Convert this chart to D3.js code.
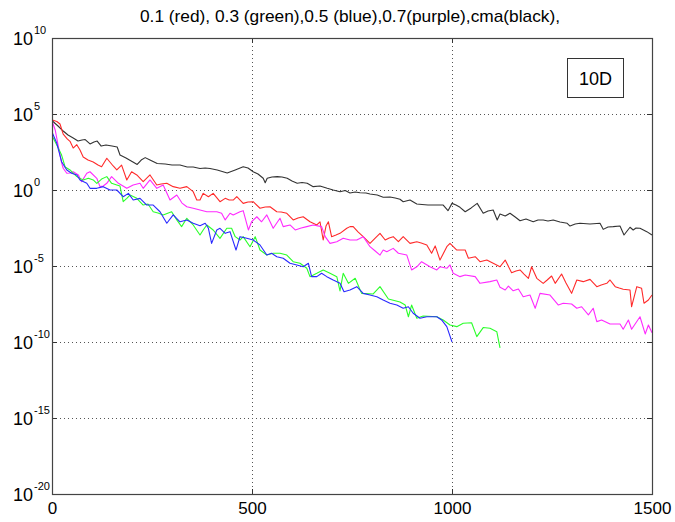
<!DOCTYPE html>
<html><head><meta charset="utf-8">
<script src="https://cdn.jsdelivr.net/npm/d3@7"></script>
<style>
body{margin:0;background:#fff;}
text{font-family:"Liberation Sans",Arial,sans-serif;fill:#000;}
</style></head>
<body><svg id="c" width="675" height="522"></svg>
<script>
// ---- data: [iteration, log10(value)] ----
const titleText = "0.1 (red), 0.3 (green),0.5 (blue),0.7(purple),cma(black),";
const boxLabel = "10D";
const xTicks = [0, 500, 1000, 1500];
const yTickExps = [10, 5, 0, -5, -10, -15, -20];

const black = [[1,4.54],[15,4.21],[28,3.88],[40,3.62],[53,3.42],[65,3.22],[75,3.29],[83,3.32],[95,3.03],[105,3.16],[113,3.22],[123,2.89],[135,2.96],[150,2.89],[163,2.83],[170,2.30],[185,2.11],[198,1.91],[213,1.68],[223,1.97],[233,2.13],[245,1.97],[263,1.74],[283,1.71],[300,1.64],[320,1.64],[338,1.51],[353,1.51],[370,1.41],[383,1.45],[395,1.41],[413,1.32],[438,1.12],[458,1.32],[478,1.53],[490,1.45],[503,1.20],[515,1.05],[528,0.77],[533,0.48],[538,0.77],[550,0.86],[563,0.88],[575,0.86],[588,0.77],[600,0.59],[613,0.44],[625,0.49],[638,0.44],[653,0.22],[670,0.26],[688,0.11],[703,0],[720,-0.11],[733,-0.03],[745,-0.20],[758,-0.13],[770,-0.18],[785,-0.20],[795,-0.26],[813,-0.33],[828,-0.48],[845,-0.46],[858,-0.53],[870,-0.61],[878,-0.77],[895,-0.66],[912,-0.92],[925,-0.95],[940,-0.99],[953,-0.99],[965,-0.99],[978,-0.99],[990,-1.36],[1000,-0.88],[1010,-0.99],[1020,-1.14],[1033,-1.43],[1048,-1.18],[1063,-0.88],[1078,-1.53],[1090,-1.38],[1103,-1.32],[1113,-1.97],[1120,-1.58],[1133,-1.71],[1145,-1.53],[1158,-1.78],[1170,-2.02],[1185,-1.91],[1203,-2.09],[1215,-1.97],[1228,-1.97],[1240,-2.04],[1253,-1.97],[1270,-2.11],[1288,-2.19],[1295,-2.37],[1308,-2.24],[1320,-2.19],[1345,-2.24],[1370,-2.19],[1378,-2.59],[1390,-2.43],[1403,-2.41],[1420,-2.37],[1430,-2.96],[1445,-2.45],[1453,-2.63],[1460,-2.50],[1470,-2.52],[1487,-2.74],[1500,-2.96]];

const red = [[1,4.61],[12,4.51],[20,4.34],[28,3.68],[38,3.36],[45,3.20],[53,2.76],[62,2.98],[70,2.63],[78,2.17],[90,1.97],[103,1.84],[115,1.64],[124,1.53],[137,2.09],[153,1.58],[162,1.32],[174,1.64],[187,0.66],[199,1.20],[212,0.99],[228,0.55],[245,0.99],[262,0.33],[273,0.39],[287,0.44],[303,0.22],[320,0.11],[337,0.22],[353,-0.11],[362,-0.66],[370,-0.66],[378,-0.22],[391,-0.44],[403,-0.22],[420,-0.77],[433,-0.55],[443,-0.66],[453,-0.66],[462,-0.44],[478,-0.88],[490,-0.79],[503,-0.77],[520,-1.20],[533,-1.12],[545,-1.10],[562,-1.43],[573,-1.45],[587,-1.53],[603,-1.97],[615,-1.84],[628,-1.76],[645,-2.09],[662,-2.30],[670,-2.09],[678,-3.29],[685,-2.37],[691,-2.09],[699,-3.07],[710,-2.96],[720,-2.85],[737,-2.52],[745,-2.41],[753,-2.41],[765,-2.76],[778,-3.07],[795,-3.51],[808,-3.16],[820,-2.85],[833,-3.29],[843,-3.16],[853,-3.07],[866,-3.40],[878,-3.07],[895,-3.51],[912,-3.40],[923,-3.49],[937,-3.62],[949,-4.16],[958,-3.68],[970,-4.61],[987,-3.73],[995,-3.51],[1012,-3.95],[1023,-3.95],[1033,-3.95],[1041,-4.49],[1058,-4.39],[1070,-4.72],[1087,-4.61],[1103,-4.82],[1120,-5.05],[1133,-4.61],[1149,-5.44],[1160,-5.33],[1170,-5.26],[1180,-5.53],[1191,-5.81],[1199,-5.05],[1212,-5.81],[1228,-6.14],[1238,-5.92],[1249,-5.66],[1258,-6.14],[1274,-5.53],[1285,-6.12],[1299,-6.80],[1312,-5.92],[1328,-6.03],[1345,-5.88],[1362,-6.36],[1373,-6.25],[1387,-6.14],[1395,-5.92],[1408,-6.36],[1418,-6.45],[1428,-6.53],[1445,-6.58],[1449,-7.68],[1462,-6.36],[1474,-6.47],[1480,-7.45],[1491,-7.24],[1500,-6.91]];

const magenta = [[1,4.47],[8,3.95],[12,3.40],[20,2.30],[24,1.78],[28,1.43],[37,1.10],[45,1.12],[53,1.20],[66,0.99],[74,0.55],[87,1.10],[95,1.20],[112,0.77],[120,0.22],[128,0.26],[137,0.44],[149,0.88],[166,0.44],[187,0.11],[203,0.33],[220,0.44],[228,0.11],[245,0.66],[262,0.11],[278,0.33],[295,-0.66],[312,-0.33],[325,-0.86],[337,-1.10],[353,-1.20],[370,-1.32],[387,-1.43],[412,-1.43],[424,-1.53],[433,-1.97],[445,-1.53],[453,-1.64],[470,-1.43],[478,-1.36],[491,-2.63],[499,-2.09],[512,-1.76],[524,-2.09],[537,-1.64],[553,-2.52],[570,-1.86],[578,-2.41],[595,-2.30],[608,-2.63],[623,-2.50],[637,-2.41],[653,-2.30],[674,-2.41],[683,-3.07],[695,-3.51],[712,-3.40],[728,-3.18],[745,-3.29],[762,-3.29],[778,-3.07],[795,-3.73],[808,-4.01],[820,-4.28],[828,-3.95],[837,-4.06],[853,-3.84],[866,-4.16],[887,-4.28],[899,-5.26],[912,-5.05],[924,-4.72],[945,-5.05],[962,-5.26],[970,-5.05],[987,-5.15],[995,-4.93],[1003,-5.48],[1020,-5.70],[1033,-5.59],[1058,-5.70],[1070,-6.14],[1095,-6.03],[1112,-5.92],[1120,-6.40],[1133,-6.58],[1141,-6.32],[1153,-6.63],[1166,-6.51],[1178,-7.02],[1195,-6.91],[1208,-7.78],[1220,-6.80],[1245,-6.91],[1266,-7.57],[1278,-7.45],[1299,-7.50],[1312,-7.78],[1324,-7.68],[1341,-8.22],[1353,-7.78],[1362,-8.66],[1374,-8.55],[1395,-8.82],[1420,-8.82],[1428,-9.16],[1441,-8.55],[1449,-9.16],[1470,-8.34],[1483,-9.47],[1491,-8.88],[1500,-9.39]];

const green = [[1,3.52],[12,2.96],[24,2.30],[33,1.51],[45,1.32],[62,0.88],[78,0.66],[91,0.77],[103,0.66],[112,0.44],[124,0.72],[137,0.88],[149,0.44],[162,0.33],[170,0.26],[178,-0.77],[187,-0.55],[195,-0.33],[212,-0.55],[228,-0.99],[240,-0.92],[253,-1.43],[265,-1.51],[278,-1.64],[299,-1.43],[312,-1.97],[324,-2.41],[337,-1.86],[353,-2.30],[370,-2.96],[378,-2.63],[387,-2.30],[403,-2.63],[420,-3.18],[437,-2.52],[449,-2.52],[458,-3.07],[470,-3.29],[478,-3.07],[495,-3.73],[508,-3.07],[520,-3.95],[537,-4.28],[553,-4.16],[570,-4.16],[587,-4.28],[603,-4.72],[620,-4.82],[637,-5.15],[645,-5.70],[662,-5.48],[678,-5.26],[695,-5.48],[712,-5.70],[720,-6.64],[728,-5.48],[741,-6.14],[758,-5.81],[774,-6.80],[803,-6.84],[820,-6.36],[841,-7.17],[870,-7.37],[883,-7.57],[891,-8.34],[899,-7.57],[912,-8.44],[928,-8.29],[962,-8.34],[978,-8.55],[995,-8.88],[1012,-8.99],[1028,-8.77],[1049,-8.73],[1062,-9.65],[1078,-9.05],[1095,-9.10],[1112,-9.32],[1120,-10.39]];

const blue = [[1,3.75],[12,3.07],[24,1.86],[37,1.32],[49,1.10],[62,0.99],[70,0.66],[87,0.44],[95,0.11],[112,0.11],[128,0.22],[145,0],[162,0],[178,-0.44],[191,-0.22],[203,-0.66],[220,-0.55],[237,-0.99],[253,-0.99],[270,-1.43],[287,-2.19],[303,-1.64],[320,-2.09],[337,-1.97],[353,-2.19],[370,-2.35],[383,-2.19],[391,-2.52],[399,-3.51],[412,-2.63],[420,-2.52],[433,-2.85],[445,-2.74],[460,-3.95],[470,-3.07],[487,-3.18],[503,-3.29],[520,-3.62],[537,-4.28],[549,-4.16],[562,-4.39],[578,-4.49],[595,-4.82],[612,-4.93],[628,-5.05],[641,-4.82],[649,-5.70],[662,-5.70],[674,-5.48],[687,-5.70],[703,-5.92],[720,-6.14],[730,-6.69],[745,-6.58],[762,-6.36],[778,-6.80],[795,-6.91],[812,-7.02],[828,-7.24],[845,-7.45],[862,-7.57],[878,-7.78],[891,-7.68],[903,-8.11],[920,-8.44],[937,-8.34],[962,-8.34],[974,-8.55],[987,-8.99],[1000,-10.0]];

const series = [
  {name:"cma", data:black, color:"#333333"},
  {name:"0.1", data:red, color:"#ff2a2a"},
  {name:"0.7", data:magenta, color:"#ff2aff"},
  {name:"0.3", data:green, color:"#2aff2a"},
  {name:"0.5", data:blue, color:"#2a2aff"}
];

// ---- layout ----
const L = 52, R = 652, T = 38, B = 494;
const svg = d3.select("#c");
const x = d3.scaleLinear().domain([0,1500]).range([L,R]);
const y = d3.scaleLog().domain([1e-20,1e10]).range([B,T]);

// grid (dotted)
const grid = svg.append("g").attr("stroke","#555").attr("stroke-width",1).attr("stroke-dasharray","1,3");
xTicks.filter(t=>t>0&&t<1500).forEach(t=>{
  grid.append("line").attr("x1",x(t)+0.5).attr("x2",x(t)+0.5).attr("y1",T).attr("y2",B);
});
yTickExps.filter(e=>e<10&&e>-20).forEach(e=>{
  const yy = Math.round(y(Math.pow(10,e)))+0.5;
  grid.append("line").attr("x1",L).attr("x2",R).attr("y1",yy).attr("y2",yy);
});

// lines
const line = d3.line().x(d=>x(d[0])).y(d=>y(Math.pow(10,d[1])));
series.forEach(s=>{
  svg.append("path").datum(s.data).attr("d",line).attr("fill","none")
    .attr("stroke",s.color).attr("stroke-width",1.1).attr("stroke-linejoin","round");
});

// axes (bottom + left with ticks inside), plus frame
const xAxis = d3.axisBottom(x).tickValues(xTicks).tickSize(-5).tickPadding(8).tickFormat(d3.format("d"));
const gx = svg.append("g").attr("transform",`translate(0,${B})`).call(xAxis);
gx.select(".domain").remove();
gx.selectAll("line").attr("stroke","#333");
gx.selectAll("text").attr("font-size",17).attr("font-family","Liberation Sans, Arial, sans-serif").attr("fill","#000");

const yAxis = d3.axisLeft(y).tickValues(yTickExps.map(e=>Math.pow(10,e))).tickSize(-5).tickFormat("");
const gy = svg.append("g").attr("transform",`translate(${L},0)`).call(yAxis);
gy.select(".domain").remove();
gy.selectAll("line").attr("stroke","#333");

// right ticks and top ticks
const yAxisR = d3.axisRight(y).tickValues(yTickExps.map(e=>Math.pow(10,e))).tickSize(-5).tickFormat("");
const gyr = svg.append("g").attr("transform",`translate(${R},0)`).call(yAxisR);
gyr.select(".domain").remove(); gyr.selectAll("line").attr("stroke","#333");
const xAxisT = d3.axisTop(x).tickValues(xTicks).tickSize(-5).tickFormat("");
const gxt = svg.append("g").attr("transform",`translate(0,${T})`).call(xAxisT);
gxt.select(".domain").remove(); gxt.selectAll("line").attr("stroke","#333");

svg.append("rect").attr("x",L+0.5).attr("y",T+0.5).attr("width",R-L).attr("height",B-T)
  .attr("fill","none").attr("stroke","#444").attr("stroke-width",1.2);

// y tick labels: 10 with superscript exponents
yTickExps.forEach(e=>{
  const yy = y(Math.pow(10,e));
  svg.append("text").attr("x",33).attr("y",yy+7).attr("text-anchor","end").attr("font-size",18).text("10");
  svg.append("text").attr("x",34).attr("y",yy-4).attr("font-size",11).text(String(e));
});

// title
svg.append("text").attr("x",350).attr("y",22).attr("text-anchor","middle").attr("font-size",17).attr("textLength",420).attr("lengthAdjust","spacingAndGlyphs").text(titleText);

// label box
svg.append("rect").attr("x",567.5).attr("y",58.5).attr("width",56).attr("height",39).attr("fill","#fff").attr("stroke","#333");
svg.append("text").attr("x",595.5).attr("y",85).attr("text-anchor","middle").attr("font-size",18).text(boxLabel);
</script></body></html>
